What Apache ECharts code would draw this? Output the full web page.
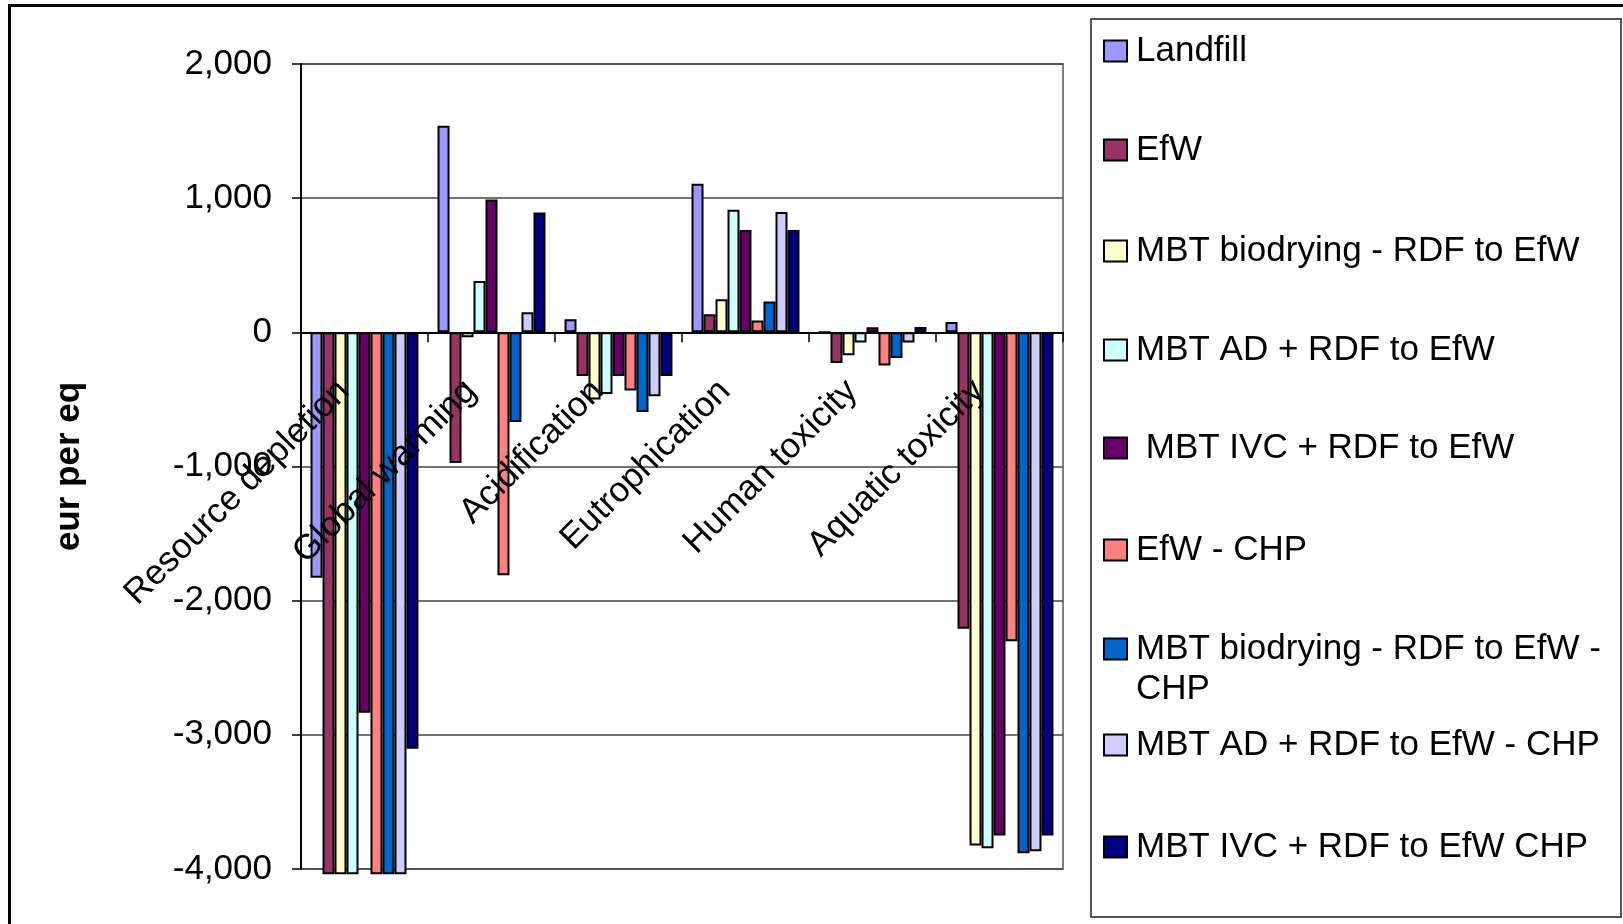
<!DOCTYPE html>
<html>
<head>
<meta charset="utf-8">
<script src="https://cdn.jsdelivr.net/npm/echarts@6/dist/echarts.min.js"></script>
<style>
  html, body { margin: 0; padding: 0; background: #fff; }
  #chart { width: 1623px; height: 924px; }
</style>
</head>
<body>
<div id="chart"></div>
<script>
// Impact categories along the x axis
const categories = ['Resource depletion', 'Global warming', 'Acidification',
                    'Eutrophication', 'Human toxicity', 'Aquatic toxicity'];

// Waste treatment options (one bar series each)
const seriesNames = [
  'Landfill',
  'EfW',
  'MBT biodrying - RDF to EfW',
  'MBT AD + RDF to EfW',
  ' MBT IVC + RDF to EfW',
  'EfW - CHP',
  'MBT biodrying - RDF to EfW - CHP',
  'MBT AD + RDF to EfW - CHP',
  'MBT IVC + RDF to EfW CHP'
];

// eur per eq, per impact category
const landfill   = [-1830, 1540,   97, 1108,    0,    77];
const efw        = [-4040, -973, -325,  134, -228, -2210];
const mbtBio     = [-4040,  -37, -500,  246, -171, -3825];
const mbtAd      = [-4040,  383, -459,  914,  -75, -3845];
const mbtIvc     = [-2836,  990, -325,  763,   37, -3750];
const efwChp     = [-4040, -1810, -434,  89, -248, -2302];
const mbtBioChp  = [-4040, -668, -593,  229, -191, -3882];
const mbtAdChp   = [-4040,  149, -477,  897,  -75, -3867];
const mbtIvcChp  = [-3104,  894, -325,  763,   40, -3750];

const seriesData = [landfill, efw, mbtBio, mbtAd, mbtIvc, efwChp, mbtBioChp, mbtAdChp, mbtIvcChp];

// Value axis range and step
const yMin = -4000, yMax = 2000, yStep = 1000;

const seriesColors = ['#9999FF', '#993366', '#FFFFCC', '#CCFFFF', '#660066',
                      '#FF8080', '#0066CC', '#CCCCFF', '#000080'];

const FONT = "'Liberation Sans', Arial, sans-serif";

// plot area
const GRID = { left: 301, top: 64, width: 762, height: 805 };
// distance from the bottom of the plot up to the zero line, so the category axis sits at 0
const zeroLift = GRID.height * (0 - yMin) / (yMax - yMin);

function fmtThousands(v) {
  const s = String(Math.abs(v)).replace(/\B(?=(\d{3})+(?!\d))/g, ',');
  return (v < 0 ? '-' : '') + s;
}

// vertical position of each legend entry
const legendTops = [31, 130, 231, 330, 428, 530, 589, 725, 827];

const legends = seriesNames.map((name, i) => {
  const wrapped = name.endsWith(' - CHP') && name.startsWith('MBT biodrying');
  return {
    orient: 'vertical',
    left: 1103,
    top: legendTops[i],
    padding: 0,
    itemWidth: 23,
    itemHeight: 21,
    itemGap: 0,
    icon: 'rect',
    selectedMode: false,
    itemStyle: { borderColor: '#000', borderWidth: 2 },
    data: [name],
    // the long entry wraps; an empty first line keeps the swatch level with line one
    formatter: wrapped ? (n) => '\n' + n.replace(/ - CHP$/, ' -\nCHP') : '{name}',
    textStyle: { fontSize: 35, fontFamily: FONT, color: '#000', lineHeight: 40, padding: [0, 0, 0, 4] }
  };
});

const chart = echarts.init(document.getElementById('chart'));
chart.setOption({
  animation: false,
  backgroundColor: '#fff',
  textStyle: { fontFamily: FONT },
  grid: Object.assign({}, GRID, {
    show: true, borderColor: '#808080', borderWidth: 2,
    containLabel: false, outerBoundsMode: 'none'
  }),
  legend: legends,
  graphic: [
    { type: 'rect', silent: true, z: 10,
      shape: { x: 9.5, y: 5.5, width: 1700, height: 1000 },
      style: { fill: null, stroke: '#000', lineWidth: 3 } },
    { type: 'rect', silent: true, z: 10,
      shape: { x: 1091, y: 19, width: 530, height: 898 },
      style: { fill: null, stroke: '#555', lineWidth: 2 } }
  ],
  xAxis: {
    type: 'category',
    data: categories,
    z: 5,
    offset: -zeroLift,
    axisLine: { onZero: false, lineStyle: { color: '#000', width: 2 } },
    axisTick: { show: true, length: 10, lineStyle: { color: '#000', width: 1.5 } },
    axisLabel: { show: true, rotate: 45, interval: 0, hideOverlap: false,
                 fontSize: 35, color: '#000', fontFamily: FONT, margin: 33,
                 padding: [0, 29, 0, 0] },
    splitLine: { show: false }
  },
  yAxis: {
    type: 'value',
    min: yMin, max: yMax, interval: yStep,
    axisLine: { show: true, lineStyle: { color: '#000', width: 2 } },
    axisTick: { show: true, length: 9, lineStyle: { color: '#000', width: 1.5 } },
    axisLabel: { fontSize: 35, color: '#000', fontFamily: FONT, margin: 29, formatter: fmtThousands },
    splitLine: { show: true, lineStyle: { color: '#444', width: 1.5 } },
    name: 'eur per eq',
    nameLocation: 'middle',
    nameRotate: 90,
    nameGap: 214,
    nameTextStyle: { fontSize: 35, fontWeight: 'bold', color: '#000', fontFamily: FONT }
  },
  series: seriesNames.map((name, i) => ({
    type: 'bar',
    name: name,
    data: seriesData[i],
    barGap: '0%',
    barCategoryGap: '15%',
    clip: false,
    emphasis: { disabled: true },
    itemStyle: { color: seriesColors[i], borderColor: '#000', borderWidth: 2 }
  }))
});
</script>
</body>
</html>
